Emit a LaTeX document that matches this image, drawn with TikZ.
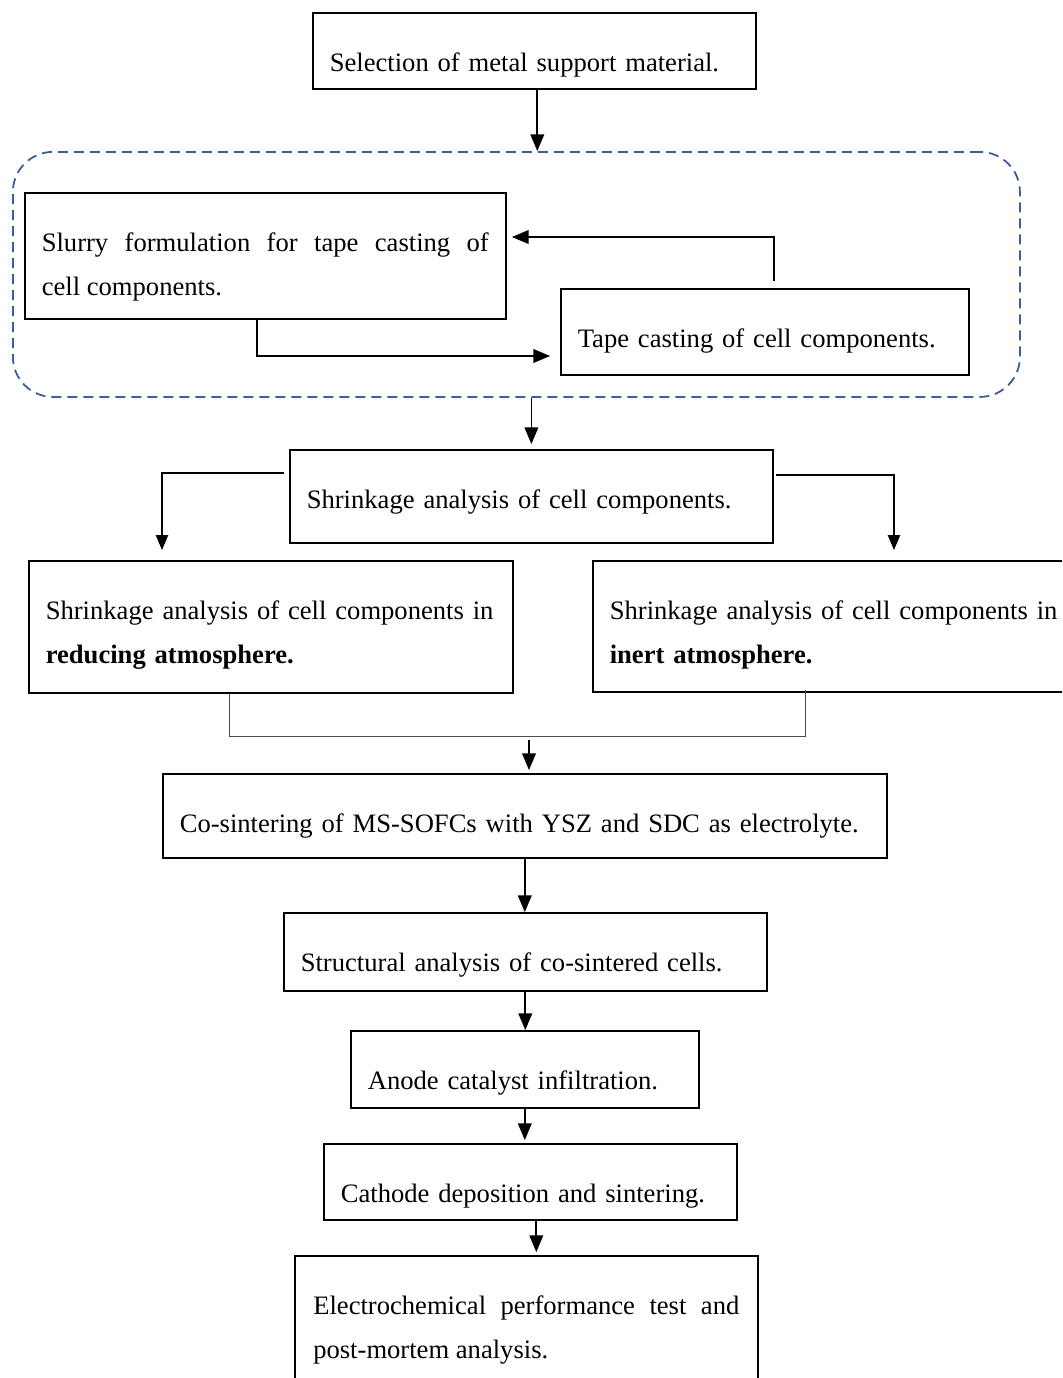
\documentclass[tikz,border=0pt]{standalone}
\usepackage{fontspec}
\setmainfont{Liberation Serif}
\usetikzlibrary{arrows}
\hyphenpenalty=10000
\definecolor{dashblue}{rgb}{0.24,0.36,0.6}
\tikzset{
  box/.style={draw,line width=0.8pt,anchor=north west,inner xsep=8.5pt,inner ysep=0pt,
              text height=29.5pt,align=left,font=\fontsize{13.3}{22}\selectfont},
  group/.style={draw=dashblue,line width=0.9pt,dash pattern=on 5pt off 3pt,
                rounded corners=20pt,anchor=north west,inner sep=0pt},
  arr/.style={->,line width=0.9pt},
  joinline/.style={line width=0.5pt,color=black!70}
}

\begin{document}
\begin{tikzpicture}[line cap=butt,line join=miter,>=triangle 45,x=0.5pt,y=-0.5pt]
  \useasboundingbox (0,0) rectangle (1062,1378);
  \clip (0,0) rectangle (1062,1378);

  % boxes
  \node[box,text width=204.5pt,text depth=8.5pt] (sel) at (312,12) {Selection of metal support material.};
  \node[group,minimum width=503.5pt,minimum height=122.5pt] (grp) at (12,151) {};
  \node[box,text width=223.5pt,text depth=33.5pt,align=justify] (slurry) at (24,192)
    {Slurry formulation for tape casting of\linebreak cell components.};
  \node[box,text width=187pt,text depth=13.5pt] (tape) at (560,288) {Tape casting of cell components.};
  \node[box,text width=224.5pt,text depth=17pt] (shrink) at (289,449) {Shrinkage analysis of cell components.};
  \node[box,text width=225pt,text depth=36.5pt] (reduce) at (28,560)
    {Shrinkage analysis of cell components in\\\textbf{reducing atmosphere.}};
  \node[box,text width=228pt,text depth=36pt] (inert) at (592,560)
    {Shrinkage analysis of cell components in\\\textbf{inert atmosphere.}};
  \node[box,text width=345pt,text depth=12.5pt] (cosint) at (162,773)
    {Co-sintering of MS-SOFCs with YSZ and SDC as electrolyte.};
  \node[box,text width=224.5pt,text depth=9.5pt] (struct) at (283,912) {Structural analysis of co-sintered cells.};
  \node[box,text width=157pt,text depth=9pt] (anode) at (350,1030) {Anode catalyst infiltration.};
  \node[box,text width=189.5pt,text depth=8.5pt] (cathode) at (323,1143) {Cathode deposition and sintering.};
  \node[box,text width=213pt,inner xsep=9.25pt,text depth=40.5pt,align=justify] (electro) at (294,1255)
    {Electrochemical performance test and\linebreak post-mortem analysis.};

  % free ends
  \coordinate (tapeup) at (774,281);
  \coordinate (slurryin) at (512,237);
  \coordinate (slurryout) at (257,318);
  \coordinate (tapein) at (550,356);
  \coordinate (shrinkL) at (284,473);
  \coordinate (reduceIn) at (162,550);
  \coordinate (shrinkR) at (776,475);
  \coordinate (inertIn) at (894,550);
  \coordinate (reduceOut) at (229,694);
  \coordinate (inertOut) at (805,690);
  \coordinate (mergeY) at (529,740);

  % connectors
  \draw[arr] ([xshift=1.5pt]sel.south) -- ([xshift=1.5pt]sel.south |- grp.north);
  \draw[arr] (tapeup) |- (slurryin);
  \draw[arr] (slurryout) |- (tapein);
  \draw[arr,shorten >=2.5pt] ([xshift=7.5pt]grp.south) -- ([xshift=7.5pt]grp.south |- shrink.north);
  \draw[arr,line width=0.7pt] (shrinkL) -| (reduceIn);
  \draw[arr,line width=0.7pt] (shrinkR) -| (inertIn);
  \draw[joinline] (reduceOut) |- (inertOut |- 0,736) -- (inertOut);
  \draw[arr,shorten >=1.5pt] (mergeY) -- (mergeY |- cosint.north);
  \draw[arr] (cosint.south) -- (cosint.south |- struct.north);
  \draw[arr] (struct.south) -- (struct.south |- anode.north);
  \draw[arr,shorten >=1.5pt] (anode.south) -- (anode.south |- cathode.north);
  \draw[arr,shorten >=1.5pt] ([xshift=3pt]cathode.south) -- ([xshift=3pt]cathode.south |- electro.north);
\end{tikzpicture}
\end{document}
